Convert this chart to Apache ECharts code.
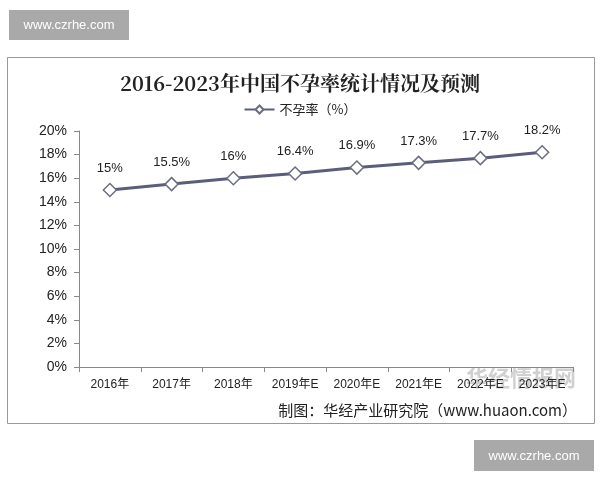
<!DOCTYPE html>
<html>
<head>
<meta charset="utf-8">
<script src="https://cdn.jsdelivr.net/npm/echarts@6/dist/echarts.min.js"></script>
<style>
html,body{margin:0;padding:0;background:#fff;}
#c1{width:600px;height:480px;}
</style>
</head>
<body>
<div id="c1"></div>
<script>
var years = ['2016年','2017年','2018年','2019年E','2020年E','2021年E','2022年E','2023年E'];
var rate = [15, 15.5, 16, 16.4, 16.9, 17.3, 17.7, 18.2];

var c1_chart = echarts.init(document.getElementById('c1'));

var c1_option = {
    backgroundColor: '#fff',
    animation: false,
    title: {
        text: '2016-2023年中国不孕率统计情况及预测',
        left: 'center',
        top: 68,
        textStyle: {
            fontFamily: 'Noto Serif CJK SC, serif',
            fontSize: 20,
            fontWeight: 'bold',
            color: '#222'
        }
    },
    legend: {
        top: 98,
        left: 'center',
        itemWidth: 30,
        itemHeight: 10,
        itemGap: 4,
        textStyle: { fontSize: 13, color: '#222', fontFamily: 'Noto Sans CJK SC' },
        data: ['不孕率（%）']
    },
    grid: { left: 79, right: 27, top: 131, bottom: 113 },
    xAxis: {
        type: 'category',
        data: years,
        axisLine: { lineStyle: { color: '#888' } },
        axisTick: { show: true, length: 5, lineStyle: { color: '#888' } },
        axisLabel: { color: '#222', fontSize: 12, margin: 12, fontFamily: 'Liberation Sans, Noto Sans CJK SC' }
    },
    yAxis: {
        type: 'value',
        min: 0,
        max: 20,
        interval: 2,
        splitLine: { show: false },
        axisLine: { show: true, lineStyle: { color: '#888' } },
        axisTick: { show: true, length: 5, lineStyle: { color: '#888' } },
        axisLabel: { formatter: '{value}%', color: '#222', fontSize: 14, margin: 12, fontFamily: 'Liberation Sans' }
    },
    series: [{
        name: '不孕率（%）',
        type: 'line',
        data: rate,
        symbol: 'diamond',
        symbolSize: 13,
        lineStyle: { color: '#5a5e7a', width: 3 },
        itemStyle: { color: '#fff', borderColor: '#6b6e80', borderWidth: 1.5 },
        label: {
            show: true,
            position: 'top',
            distance: 8,
            formatter: '{c}%',
            color: '#222',
            fontSize: 13,
            fontFamily: 'Liberation Sans'
        }
    }],
    graphic: [
        { type: 'rect', shape: { x: 7.5, y: 57.5, width: 587, height: 366 }, style: { fill: 'none', stroke: '#999', lineWidth: 1 }, z: -1 },
        { type: 'rect', shape: { x: 9, y: 10, width: 120, height: 30 }, style: { fill: '#a9a9a9' } },
        { type: 'text', x: 69, y: 25, style: { text: 'www.czrhe.com', fill: '#fff', fontSize: 13, fontFamily: 'Liberation Sans', align: 'center', verticalAlign: 'middle' } },
        { type: 'rect', shape: { x: 474, y: 440, width: 120, height: 31 }, style: { fill: '#a9a9a9' } },
        { type: 'text', x: 534, y: 456, style: { text: 'www.czrhe.com', fill: '#fff', fontSize: 13, fontFamily: 'Liberation Sans', align: 'center', verticalAlign: 'middle' } },
        { type: 'text', x: 521, y: 378, style: { text: '华经情报网', fill: 'rgba(150,150,150,0.45)', fontSize: 22, fontWeight: 'bold', fontFamily: 'Noto Sans CJK SC', align: 'center', verticalAlign: 'middle' } },
        { type: 'text', x: 577, y: 410, style: { text: '制图：华经产业研究院（www.huaon.com）', fill: '#222', fontSize: 15, fontFamily: 'Noto Sans CJK SC', align: 'right', verticalAlign: 'middle' } }
    ]
};

c1_chart.setOption(c1_option);
</script>
</body>
</html>
